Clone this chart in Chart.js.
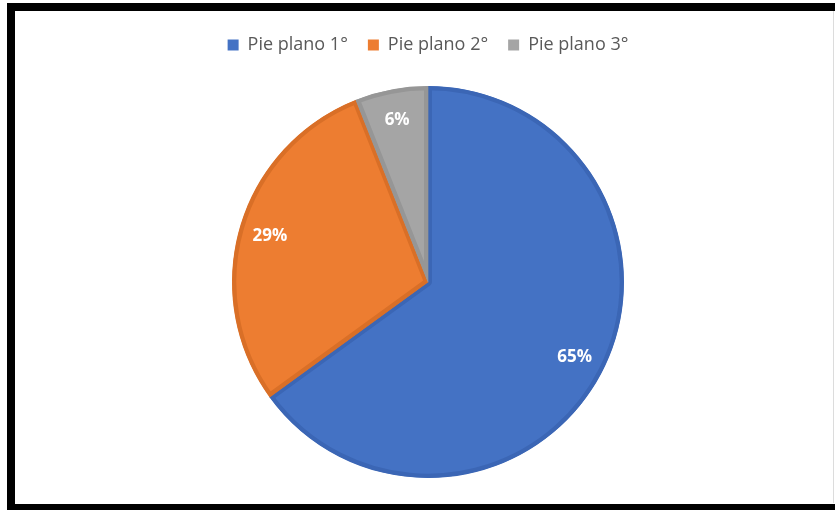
<!DOCTYPE html>
<html>
<head>
<meta charset="utf-8">
<script src="https://cdn.jsdelivr.net/npm/chart.js@4.4.1/dist/chart.umd.min.js"></script>
<style>
  html, body { margin: 0; padding: 0; background: #fff; overflow: hidden; }
  body { width: 838px; height: 510px; position: relative; }
  #marco {
    position: absolute; left: 7px; top: 3px; width: 820px; height: 493px;
    border-left: 8px solid #000; border-top: 8px solid #000; border-bottom: 7px solid #000;
  }
  #linea { position: absolute; left: 833px; top: 11px; width: 1px; height: 492px; background: #dcdcdc; }
  #grafico { position: absolute; left: 0; top: 0; }
</style>
</head>
<body>
<div id="marco"></div>
<div id="linea"></div>
<canvas id="grafico" width="838" height="510"></canvas>
<script>
var etichette = ['Pie plano 1°', 'Pie plano 2°', 'Pie plano 3°'];
var valori = [65, 29, 6];
var colori = ['#4472C4', '#ED7D31', '#A5A5A5'];
var bordi = ['#3B66B5', '#D96F27', '#969696'];

// etichette percentuali dentro le fette
var percentuali = {
  id: 'percentuali',
  afterDatasetsDraw: function (chart) {
    var ctx = chart.ctx;
    var meta = chart.getDatasetMeta(0);
    var totale = valori.reduce(function (a, b) { return a + b; }, 0);
    ctx.save();
    ctx.font = 'bold 17px "Open Sans", sans-serif';
    ctx.fillStyle = '#ffffff';
    ctx.textAlign = 'center';
    ctx.textBaseline = 'middle';
    meta.data.forEach(function (arco, i) {
      var p = arco.getProps(['x', 'y', 'startAngle', 'endAngle', 'outerRadius'], true);
      var medio = (p.startAngle + p.endAngle) / 2;
      var r = p.outerRadius * 0.84;
      var testo = Math.round(valori[i] / totale * 100) + '%';
      ctx.fillText(testo, p.x + Math.cos(medio) * r, p.y + Math.sin(medio) * r);
    });
    ctx.restore();
  }
};

// spazio in piu' sotto la legenda
var spazioLegenda = {
  id: 'spazioLegenda',
  beforeInit: function (chart) {
    var fitOrig = chart.legend.fit;
    chart.legend.fit = function () {
      fitOrig.call(this);
      this.height += 22;
    };
  }
};

var ctx = document.getElementById('grafico').getContext('2d');
var grafico = new Chart(ctx, {
  type: 'pie',
  data: {
    labels: etichette,
    datasets: [{
      data: valori,
      backgroundColor: colori,
      borderColor: bordi,
      borderWidth: 4,
      borderAlign: 'inner'
    }]
  },
  options: {
    responsive: false,
    animation: false,
    layout: { padding: { top: 16, left: 18, right: 0, bottom: 32 } },
    plugins: {
      tooltip: { enabled: false },
      legend: {
        position: 'top',
        labels: {
          boxWidth: 11,
          boxHeight: 11,
          padding: 20,
          color: '#595959',
          font: { family: '"Open Sans", sans-serif', size: 18 },
          generateLabels: function (chart) {
            var base = Chart.overrides.pie.plugins.legend.labels.generateLabels(chart);
            return base.map(function (it, i) {
              it.strokeStyle = colori[i];
              it.lineWidth = 0;
              return it;
            });
          }
        }
      }
    }
  },
  plugins: [percentuali, spazioLegenda]
});
</script>
</body>
</html>
